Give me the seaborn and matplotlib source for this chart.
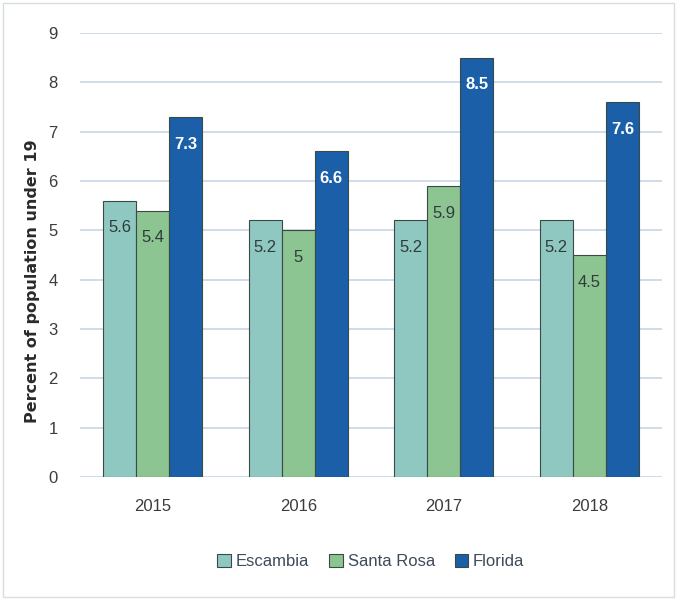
import matplotlib
matplotlib.use("Agg")
import matplotlib.pyplot as plt
import seaborn as sns
import pandas as pd

# data
years = ["2015", "2016", "2017", "2018"]
escambia = [5.6, 5.2, 5.2, 5.2]
santa_rosa = [5.4, 5.0, 5.9, 4.5]
florida = [7.3, 6.6, 8.5, 7.6]
areas = ["Escambia", "Santa Rosa", "Florida"]
colors = ["#8fc7c1", "#8cc492", "#1a5fa8"]

rows = []
for name, vals in zip(areas, [escambia, santa_rosa, florida]):
    for y, v in zip(years, vals):
        rows.append({"year": y, "area": name, "value": v})
df = pd.DataFrame(rows)

sns.set_style("white")
plt.rcParams["font.family"] = ["Liberation Sans Narrow", "Liberation Sans", "DejaVu Sans"]

fig = plt.figure(figsize=(6.77, 6.0), dpi=100)
ax = fig.add_axes([0.118, 0.205, 0.86, 0.74])

sns.barplot(data=df, x="year", y="value", hue="area", order=years,
            hue_order=areas, palette=colors, width=0.68, ax=ax,
            edgecolor="#3a4a44", linewidth=0.8, saturation=1, errorbar=None)

# value labels inside the bars, near the top
for i, cont in enumerate(ax.containers):
    labs = [("%g" % v) for v in cont.datavalues]
    if areas[i] == "Florida":
        ax.bar_label(cont, labels=labs, padding=-25, color="white",
                     fontsize=12, fontweight="bold")
    else:
        ax.bar_label(cont, labels=labs, padding=-25, color="#2f3d3a",
                     fontsize=12)

ax.set_ylim(0, 9)
ax.set_yticks(range(0, 10))
ax.yaxis.grid(True, color="#c7d6e4", linewidth=1.2)
ax.set_axisbelow(True)
for s in ax.spines.values():
    s.set_visible(False)
ax.tick_params(axis="both", length=0, labelsize=12, colors="#3c3c3c")
ax.tick_params(axis="x", pad=16)
ax.tick_params(axis="y", pad=16)
ax.set_xlabel("")
ax.set_ylabel("Percent of population under 19", fontsize=11.5,
              fontweight="bold", color="#2a2a2a",
              family=["DejaVu Sans"])
ax.yaxis.set_label_coords(-0.069, 0.44)

ax.legend(loc="upper center", bbox_to_anchor=(0.5, -0.14), ncol=3,
          frameon=False, fontsize=12, handlelength=0.8, handleheight=0.8,
          handletextpad=0.3, columnspacing=1.2, labelcolor="#3c4a5a")

fig.patches.append(plt.Rectangle((0.005, 0.005), 0.99, 0.99, transform=fig.transFigure,
                                 fill=False, edgecolor="#d8dde2", linewidth=1))

fig.savefig("out.png", dpi=100)
